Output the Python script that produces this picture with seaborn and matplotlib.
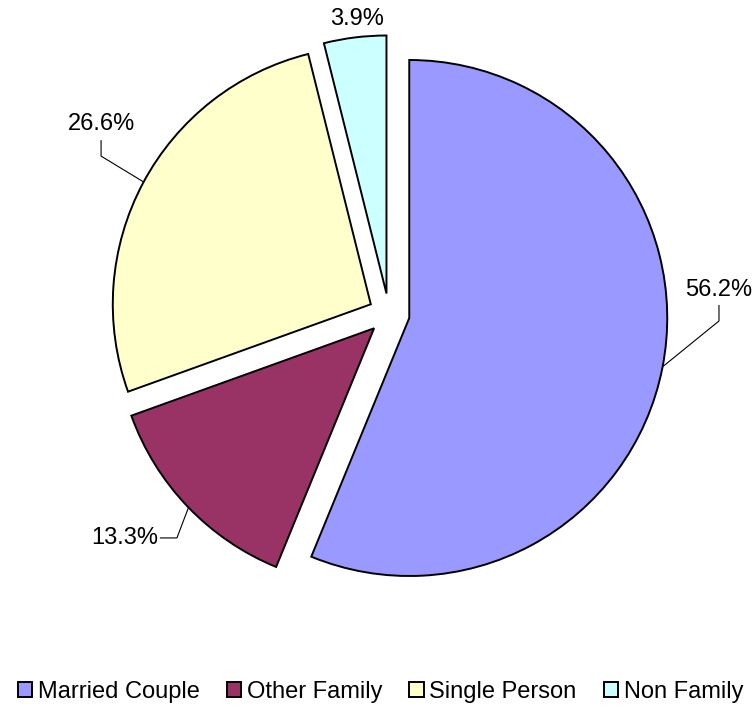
import numpy as np
import seaborn as sns
import matplotlib.pyplot as plt

# data
categories = ['Married Couple', 'Other Family', 'Single Person', 'Non Family']
shares = [56.2, 13.3, 26.6, 3.9]
colors = ['#9999FF', '#993366', '#FFFFCC', '#CCFFFF']

sns.set_style("white")
plt.rcParams['font.family'] = ['Liberation Sans', 'DejaVu Sans']
plt.rcParams['text.color'] = 'black'

fig = plt.figure(figsize=(7.52, 7.09), dpi=100)
ax = fig.add_axes([0, 0, 1, 1])

wedges, _ = ax.pie(shares, colors=colors, startangle=90, counterclock=False,
                   explode=[0.08] * 4, radius=1.0,
                   wedgeprops=dict(edgecolor='black', linewidth=1.4))

# 1 data unit = 258 px, pie centre at pixel (389, 314)
ax.set_xlim(-389 / 258, (752 - 389) / 258)
ax.set_ylim(-(709 - 314) / 258, 314 / 258)
ax.set_aspect('auto')
ax.axis('off')

# label layout: (anchor angle on arc, elbow point, line end, text pos, ha, va)
layout = {
    'Married Couple': (-10.9, (1.279, -0.027), (1.279, 0.035), (1.279, 0.05), 'center', 'bottom'),
    'Other Family': (224.0, (-0.822, -0.868), (-0.888, -0.868), (-0.895, -0.868), 'right', 'center'),
    'Single Person': (151.7, (-1.116, 0.612), (-1.116, 0.674), (-1.116, 0.693), 'center', 'bottom'),
    'Non Family': (None, None, None, (-0.124, 1.10), 'center', 'bottom'),
}

for w, cat, v in zip(wedges, categories, shares):
    ang, elbow, end, txt, ha, va = layout[cat]
    cx, cy = w.center
    if ang is not None:
        a = np.deg2rad(ang)
        p = (cx + w.r * np.cos(a), cy + w.r * np.sin(a))
        ax.plot([p[0], elbow[0], end[0]], [p[1], elbow[1], end[1]],
                color='black', lw=0.8, solid_capstyle='butt')
    ax.text(txt[0], txt[1], f"{v:.1f}%", ha=ha, va=va, fontsize=17, color='black')

fig.legend(wedges, categories, loc='center', bbox_to_anchor=(0.506, 0.024),
           ncol=4, frameon=False, fontsize=17, handlelength=0.6,
           handleheight=0.6, handletextpad=0.25, columnspacing=1.15,
           borderaxespad=0, borderpad=0, labelcolor='black')

fig.savefig('out.png', dpi=100)
